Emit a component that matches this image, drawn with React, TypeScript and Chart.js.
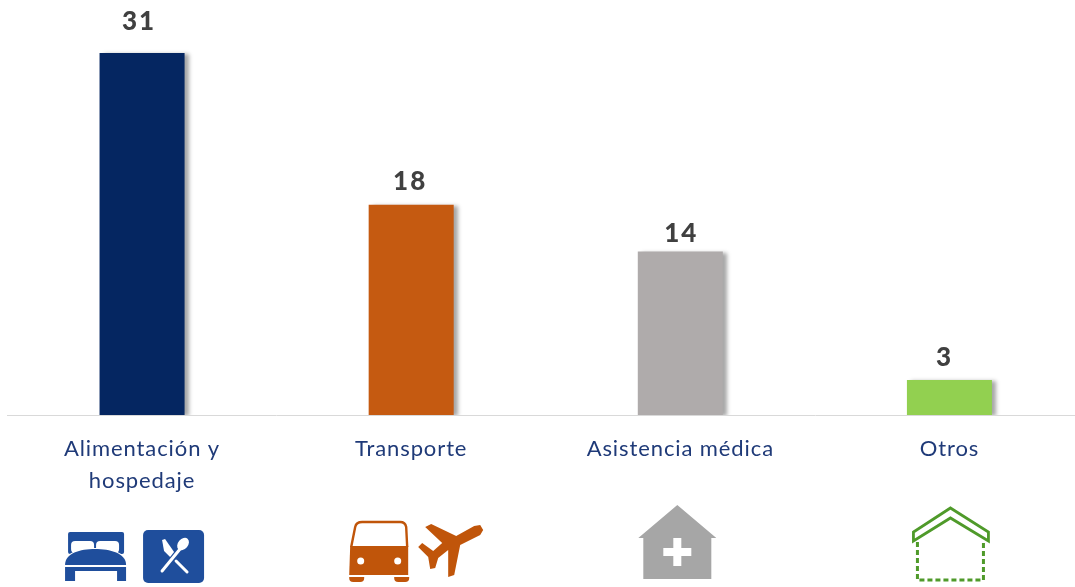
import React, { useEffect, useRef } from "react";
import { Chart, registerables } from "chart.js";

Chart.register(...registerables);

const categories: (string | string[])[] = [["Alimentación y", "hospedaje"], "Transporte", "Asistencia médica", "Otros"];
const values = [31, 18, 14, 3];
const barColors = ["#052661", "#C55A11", "#AFABAB", "#92D050"];
const labelGaps = [23, 15, 10, 14];
const labelNudges = [-3, -1, 1, -5];

const poly = (ctx: CanvasRenderingContext2D, pts: number[][]) => {
  ctx.beginPath();
  pts.forEach((p, i) => (i ? ctx.lineTo(p[0], p[1]) : ctx.moveTo(p[0], p[1])));
  ctx.closePath();
};
const rr = (ctx: CanvasRenderingContext2D, x: number, y: number, w: number, h: number, r: any, fill: string) => {
  ctx.fillStyle = fill;
  ctx.beginPath();
  ctx.roundRect(x, y, w, h, r);
  ctx.fill();
};

const iconLodging = (ctx: CanvasRenderingContext2D) => {
  const c = "#1F4E9C";
  rr(ctx, -74, 532, 56, 22, 2, c);
  rr(ctx, -71, 541, 23, 12, 4, "#fff");
  rr(ctx, -46, 541, 23, 12, 4, "#fff");
  ctx.beginPath();
  ctx.moveTo(-77, 565);
  ctx.bezierCurveTo(-77, 553, -62, 549, -47, 549);
  ctx.bezierCurveTo(-32, 549, -16, 553, -16, 565);
  ctx.closePath();
  ctx.lineWidth = 2;
  ctx.strokeStyle = "#fff";
  ctx.stroke();
  ctx.fillStyle = c;
  ctx.fill();
  ctx.fillRect(-77, 567, 61, 4);
  ctx.fillRect(-77, 571, 10, 10);
  ctx.fillRect(-25, 571, 9, 10);
  rr(ctx, 1, 530, 61, 53, 5, c);
  ctx.strokeStyle = "#fff";
  ctx.lineCap = "round";
  ctx.lineWidth = 3;
  ctx.beginPath();
  ctx.moveTo(20, 571);
  ctx.lineTo(38, 549);
  ctx.stroke();
  ctx.fillStyle = "#fff";
  ctx.beginPath();
  ctx.ellipse(41, 544, 5, 7, 0.7, 0, Math.PI * 2);
  ctx.fill();
  poly(ctx, [[20, 540], [23, 539], [32, 552], [28, 557], [22, 551]]);
  ctx.fill();
  ctx.beginPath();
  ctx.moveTo(34, 561);
  ctx.lineTo(45, 572);
  ctx.stroke();
  ctx.lineCap = "butt";
};

const iconTravel = (ctx: CanvasRenderingContext2D) => {
  const c = "#C0550A";
  ctx.strokeStyle = c;
  ctx.lineWidth = 2.4;
  ctx.beginPath();
  ctx.moveTo(-60, 547);
  ctx.lineTo(-56, 527);
  ctx.quadraticCurveTo(-55, 522, -49, 522);
  ctx.lineTo(-11, 522);
  ctx.quadraticCurveTo(-6, 522, -5, 527);
  ctx.lineTo(-4, 547);
  ctx.stroke();
  ctx.fillStyle = c;
  ctx.beginPath();
  ctx.moveTo(-61, 546);
  ctx.lineTo(-3, 546);
  ctx.lineTo(-3, 575);
  ctx.lineTo(-62, 575);
  ctx.closePath();
  ctx.fill();
  ctx.fillStyle = "#fff";
  [-50.5, -13.5].forEach((x) => {
    ctx.beginPath();
    ctx.arc(x, 561, 3.5, 0, Math.PI * 2);
    ctx.fill();
  });
  rr(ctx, -62, 577, 15, 5, [0, 0, 4, 4], c);
  rr(ctx, -17, 577, 15, 5, [0, 0, 4, 4], c);
  ctx.fillStyle = c;
  poly(ctx, [[63, 526], [45, 536], [20, 524], [14, 527], [31, 543], [22, 551], [11, 543], [7, 547], [17, 557], [19, 569], [24, 568], [27, 558], [37, 550], [37, 577], [43, 575], [49, 545], [69, 535], [72, 530], [69, 525]]);
  ctx.fill();
};

const iconMedical = (ctx: CanvasRenderingContext2D) => {
  ctx.fillStyle = "#A6A6A6";
  poly(ctx, [[-3, 505], [36, 538], [31, 538], [31, 579], [-37, 579], [-37, 538], [-42, 538]]);
  ctx.fill();
  ctx.fillStyle = "#fff";
  ctx.fillRect(-17, 548, 28, 8);
  ctx.fillRect(-7, 538, 8, 28);
};

const iconOther = (ctx: CanvasRenderingContext2D) => {
  const c = "#4F9A2A";
  ctx.strokeStyle = c;
  ctx.lineWidth = 2.8;
  poly(ctx, [[1, 508], [39, 532], [39, 541], [1, 518], [-36, 541], [-36, 532]]);
  ctx.stroke();
  ctx.lineWidth = 3;
  ctx.setLineDash([5, 3]);
  ctx.beginPath();
  ctx.moveTo(-32, 542);
  ctx.lineTo(-32, 580);
  ctx.lineTo(34, 580);
  ctx.lineTo(34, 542);
  ctx.stroke();
  ctx.setLineDash([]);
};

const icons = [iconLodging, iconTravel, iconMedical, iconOther];

const decorations = {
  id: "decorations",
  beforeDraw(chart: any) {
    chart.ctx.letterSpacing = "0.9px";
  },
  beforeDatasetDraw(chart: any) {
    const ctx = chart.ctx;
    ctx.save();
    ctx.shadowColor = "rgba(0,0,0,0.35)";
    ctx.shadowOffsetX = 4;
    ctx.shadowOffsetY = 1;
    ctx.shadowBlur = 4;
  },
  afterDatasetDraw(chart: any) {
    chart.ctx.restore();
  },
  afterDraw(chart: any) {
    const ctx: CanvasRenderingContext2D = chart.ctx;
    const meta = chart.getDatasetMeta(0);
    ctx.save();
    ctx.font = "900 26px Lato";
    ctx.fillStyle = "#404040";
    ctx.textAlign = "center";
    (ctx as any).letterSpacing = "2px";
    meta.data.forEach((bar: any, i: number) => {
      ctx.fillText(String(values[i]), bar.x + labelNudges[i], bar.y - labelGaps[i]);
    });
    ctx.restore();
    icons.forEach((draw, i) => {
      ctx.save();
      ctx.translate(chart.scales.x.getPixelForValue(i), 0);
      draw(ctx);
      ctx.restore();
    });
  },
};

export default function App() {
  const ref = useRef<HTMLCanvasElement>(null);
  useEffect(() => {
    document.body.style.margin = "0";
    const chart = new Chart(ref.current!, {
      type: "bar",
      data: {
        labels: categories as any,
        datasets: [{ data: values, backgroundColor: barColors, barPercentage: 0.316, categoryPercentage: 1 }],
      },
      plugins: [decorations],
      options: {
        animation: false,
        responsive: false,
        layout: { padding: { left: 7.5, right: 0, top: 0, bottom: 0 } },
        plugins: { legend: { display: false }, tooltip: { enabled: false } },
        scales: {
          x: {
            grid: { display: false, drawTicks: false },
            border: { color: "#D9D9D9", width: 1 },
            ticks: { color: "#1F3A78", font: { family: "Lato", size: 22, lineHeight: 1.45 }, padding: 18, maxRotation: 0, autoSkip: false },
            afterFit: (s: any) => { s.height = 172; },
          },
          y: {
            display: false,
            min: 0,
            max: 35.55,
          },
        },
      } as any,
    });
    return () => chart.destroy();
  }, []);
  return (
    <div style={{ width: 1075, height: 587, overflow: "hidden", background: "#fff" }}>
      <canvas ref={ref} width={1084} height={587} style={{ display: "block" }} />
    </div>
  );
}
